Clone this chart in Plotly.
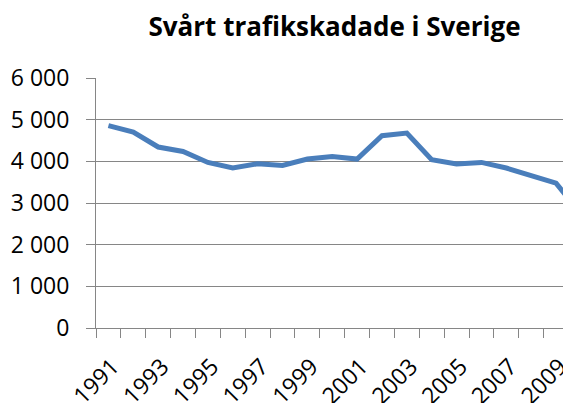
import plotly.graph_objects as go

years = list(range(1991, 2011))
svart_skadade = [4856, 4704, 4344, 4238, 3974, 3839, 3942, 3901, 4055, 4118,
                 4055, 4615, 4680, 4038, 3935, 3974, 3839, 3654, 3478, 2740]

y_tickvals = [0, 1000, 2000, 3000, 4000, 5000, 6000]
y_ticktext = ["0", "1 000", "2 000", "3 000", "4 000", "5 000", "6 000"]
x_tickvals = list(range(1991, 2010, 2))
x_ticktext = [str(y) for y in x_tickvals]

title_text = "Svårt trafikskadade i Sverige"

grid = "#868686"
font_family = "Open Sans"

fig = go.Figure()
fig.add_trace(go.Scatter(
    x=years, y=svart_skadade, mode="lines",
    line=dict(color="#4A7EBB", width=5),
    hoverinfo="skip", showlegend=False,
))

fig.update_layout(
    width=563, height=403,
    margin=dict(l=96, r=0, t=78, b=75, autoexpand=False),
    paper_bgcolor="white", plot_bgcolor="white",
    title=dict(text="<b>" + title_text + "</b>", x=334.5 / 563, xanchor="center",
               y=1 - 27 / 403, yanchor="middle",
               font=dict(family=font_family, size=26, color="black")),
    font=dict(family=font_family, size=23, color="black"),
)

fig.update_xaxes(
    range=[1990.5, 2009.28], automargin=False,
    tickmode="array", tickvals=x_tickvals, ticktext=x_ticktext,
    tickangle=-45, ticks="outside", ticklen=9, tickcolor="rgba(0,0,0,0)",
    ticklabeloverflow="allow", ticklabelstandoff=6, ticklabelshift=4,
    showgrid=False, zeroline=False,
    showline=True, linecolor=grid, linewidth=1,
    minor=dict(tick0=1990.5, dtick=1, ticks="outside", ticklen=9,
               tickcolor=grid, tickwidth=1, showgrid=False),
    tickfont=dict(family=font_family, size=23, color="black"),
)
fig.update_yaxes(
    range=[0, 6000], automargin=False,
    tickmode="array", tickvals=y_tickvals, ticktext=y_ticktext,
    ticks="outside", ticklen=9, tickcolor=grid, tickwidth=1,
    ticklabelstandoff=12,
    showgrid=True, gridcolor=grid, gridwidth=1,
    zeroline=False, showline=True, linecolor=grid, linewidth=1,
    tickfont=dict(family=font_family, size=23, color="black"),
)

fig.write_html("out.html", config={"displayModeBar": False},
               post_script="document.body.style.margin='0';document.body.style.overflow='hidden';")
